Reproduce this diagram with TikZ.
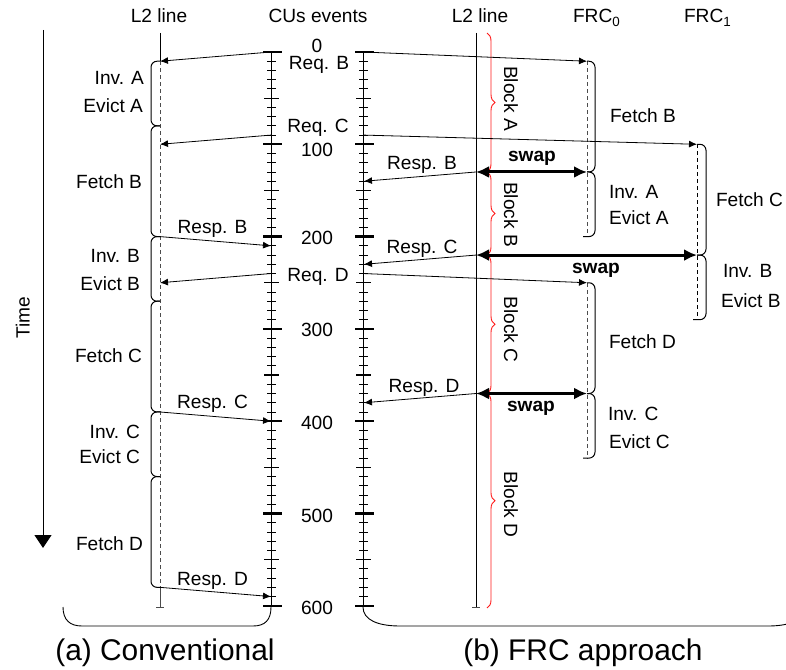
\documentclass[tikz,border=0pt]{standalone}
\usepackage{fontspec}
\setmainfont{Liberation Sans}
\usetikzlibrary{arrows.meta,decorations.pathreplacing}
\newcommand\Y[1]{52+0.923*#1}
\begin{document}
\begin{tikzpicture}[x=1bp,y=-1bp,
  every node/.style={font=\fontsize{19.2}{22}\selectfont, inner sep=0pt, outer sep=0pt},
  t/.style={anchor=base},
  te/.style={anchor=base east},
  tw/.style={anchor=base west},
  msg/.style={-{Latex[length=8bp,width=7bp]}, line width=0.8bp},
  swp/.style={{Latex[length=13bp,width=12bp]}-{Latex[length=13bp,width=12bp]}, line width=3bp},
  brk/.style={line width=1bp, rounded corners=6bp},
  dline/.style={line width=1bp, dash pattern=on 4bp off 3bp},
  minortick/.style={line width=0.9bp},
  midtick/.style={line width=1.2bp},
  majortick/.style={line width=2.3bp},
  redbrace/.style={draw=red!90!white, line width=0.9bp, decorate, decoration={brace, amplitude=8bp}},
  bigbrk/.style={line width=0.9bp},
  captxt/.style={font=\fontsize{30}{34}\selectfont, anchor=base},
  bold/.style={font=\fontsize{19.2}{22}\selectfont\bfseries}
]
\useasboundingbox (0,0) rectangle (786,670);
\clip (0,0) rectangle (786,670);

% ---------------- rulers ----------------
\draw[line width=1bp] (271,{\Y{0}}) -- (271,{\Y{600}});
\draw[line width=1bp] (363,{\Y{0}}) -- (363,{\Y{600}});
\foreach \tt in {0,10,...,600}{
  \draw[minortick] (267,{\Y{\tt}}) -- (276,{\Y{\tt}});
  \draw[minortick] (359,{\Y{\tt}}) -- (368,{\Y{\tt}});
}
\foreach \tt in {50,150,...,550}{
  \draw[midtick] (264,{\Y{\tt}}) -- (279,{\Y{\tt}});
  \draw[midtick] (356,{\Y{\tt}}) -- (371,{\Y{\tt}});
}
\foreach \tt in {0,100,...,600}{
  \draw[majortick] (263,{\Y{\tt}}) -- (282,{\Y{\tt}});
  \draw[majortick] (355,{\Y{\tt}}) -- (374,{\Y{\tt}});
}

% ---------------- headers ----------------
\node[t] (h1) at (159,22.7) {L2 line};
\node[t] (h2) at (318,22.7) {CUs events};
\node[t] (h3) at (480,22.7) {L2 line};
\node[tw] (h4) at (573,23) {FRC\textsubscript{0}};
\node[tw] (h5) at (684,23) {FRC\textsubscript{1}};

% ---------------- middle scale labels ----------------
\node[t] (n0) at (317,52.5) {0};
\node[t] (n100) at (317,157) {100};
\node[t] (n200) at (317,244) {200};
\node[t] (n300) at (317,336.5) {300};
\node[t] (n400) at (317,429) {400};
\node[t] (n500) at (317,522) {500};
\node[t] (n600) at (317,614) {600};
\node[t] (rqB) at (319,70) {Req. B};
\node[t] (rqC) at (318,133) {Req. C};
\node[t] (rqD) at (318,281.5) {Req. D};

% ---------------- time axis ----------------
\coordinate (tTop) at (43,30);
\coordinate (tBot) at (43,548);
\draw[line width=1bp, -{Triangle[length=13bp,width=17bp]}] (tTop) -- (tBot);
\node[anchor=base, rotate=90] (time) at (29.5,318) {Time};

% ---------------- (a) conventional ----------------
\coordinate (aTop) at (160,33);
\coordinate (a10) at (160,{\Y{10}});
\coordinate (a80) at (160,{\Y{80}});
\coordinate (a100) at (160,{\Y{100}});
\coordinate (a200) at (160,{\Y{200}});
\coordinate (a250) at (160,{\Y{250}});
\coordinate (a270) at (160,{\Y{270}});
\coordinate (a390) at (160,{\Y{390}});
\coordinate (a460) at (160,{\Y{460}});
\coordinate (a580) at (160,{\Y{580}});
\coordinate (aBot) at (160,607);
\coordinate (c0) at (271,{\Y{0}});
\coordinate (c90) at (271,{\Y{90}});
\coordinate (c210) at (271,{\Y{210}});
\coordinate (c240) at (271,{\Y{240}});
\coordinate (c400) at (271,{\Y{400}});
\coordinate (c590) at (271,{\Y{590}});

\draw[line width=1bp] (aTop) -- (a10);
\draw[dline, black!70] (a10) -- (a580);
\draw[line width=1bp, black!70] (a580) -- (aBot);
\draw[line width=1bp, black!70] (156,607) -- (164,607);

\draw[brk] (a10) -- (151,{\Y{10}}) -- (151,{\Y{80}}) -- (a80);
\draw[brk] (a80) -- (151,{\Y{80}}) -- (151,{\Y{200}}) -- (a200);
\draw[brk] (a200) -- (151,{\Y{200}}) -- (151,{\Y{270}}) -- (a270);
\draw[brk] (a270) -- (151,{\Y{270}}) -- (151,{\Y{390}}) -- (a390);
\draw[brk] (a390) -- (151,{\Y{390}}) -- (151,{\Y{460}}) -- (a460);
\draw[brk] (a460) -- (151,{\Y{460}}) -- (151,{\Y{580}}) -- (a580);

\draw[msg] (c0) -- (a10);
\draw[msg] (c90) -- (a100);
\draw[msg] (a200) -- (c210);
\draw[msg] (c240) -- (a250);
\draw[msg] (a390) -- (c400);
\draw[msg] (a580) -- (c590);

\node[te] (aInvA) at (144,85) {Inv. A};
\node[te] (aEvA) at (143,112.7) {Evict A};
\node[te] (aFB) at (142,188) {Fetch B};
\node[te] (aInvB) at (140,262) {Inv. B};
\node[te] (aEvB) at (140,290) {Evict B};
\node[te] (aFC) at (142,362.5) {Fetch C};
\node[te] (aInvC) at (140,438.5) {Inv. C};
\node[te] (aEvC) at (140,463) {Evict C};
\node[te] (aFD) at (143,550.5) {Fetch D};
\node[t] (aRB) at (212.5,233) {Resp. B};
\node[t] (aRC) at (212.5,408) {Resp. C};
\node[t] (aRD) at (212.5,585) {Resp. D};

\draw[bigbrk] (63,607) .. controls (63,620) and (70,626) .. (82,626) -- (253,626) .. controls (265,626) and (271,620) .. (271,607);
\node[captxt] (capA) at (165,660) {(a) Conventional};

% ---------------- (b) FRC approach ----------------
\coordinate (bTop) at (476,33);
\coordinate (bBot) at (476,607);
\coordinate (b130) at (476,{\Y{130}});
\coordinate (b220) at (476,{\Y{220}});
\coordinate (b370) at (476,{\Y{370}});
\coordinate (r0) at (363,{\Y{0}});
\coordinate (r90) at (363,{\Y{90}});
\coordinate (r140) at (364,{\Y{140}});
\coordinate (r230) at (364,{\Y{230}});
\coordinate (r240) at (363,{\Y{240}});
\coordinate (r380) at (364,{\Y{380}});
\coordinate (f10) at (587,{\Y{10}});
\coordinate (f130) at (587,{\Y{130}});
\coordinate (f200) at (587,{\Y{200}});
\coordinate (f250) at (587,{\Y{250}});
\coordinate (f370) at (587,{\Y{370}});
\coordinate (f440) at (587,{\Y{440}});
\coordinate (g100) at (697,{\Y{100}});
\coordinate (g220) at (697,{\Y{220}});
\coordinate (g290) at (697,{\Y{290}});

\draw[line width=1bp] (bTop) -- (bBot);
\draw[line width=1bp, black!70] (472,607) -- (480,607);

\draw[redbrace] (487,33) -- (487,{\Y{130}});
\draw[redbrace] (487,{\Y{130}}) -- (487,{\Y{220}});
\draw[redbrace] (487,{\Y{220}}) -- (487,{\Y{370}});
\draw[redbrace] (487,{\Y{370}}) -- (487,608);
\node[anchor=base, rotate=-90] (blA) at (504,98.5) {Block A};
\node[anchor=base, rotate=-90] (blB) at (504,214.5) {Block B};
\node[anchor=base, rotate=-90] (blC) at (504,329.5) {Block C};
\node[anchor=base, rotate=-90] (blD) at (504,504.5) {Block D};

\draw[dline, black!70] (f10) -- (f200);
\draw[dline, black!70] (f250) -- (f440);
\draw[dline] (g100) -- (g290);

\draw[brk] (f10) -- (595,{\Y{10}}) -- (595,{\Y{130}}) -- (f130);
\draw[brk] (f130) -- (595,{\Y{130}}) -- (595,{\Y{200}}) -- (583,{\Y{200}});
\draw[brk] (f250) -- (595,{\Y{250}}) -- (595,{\Y{370}}) -- (f370);
\draw[brk] (f370) -- (595,{\Y{370}}) -- (595,{\Y{440}}) -- (583,{\Y{440}});
\draw[brk] (g100) -- (706,{\Y{100}}) -- (706,{\Y{220}}) -- (g220);
\draw[brk] (g220) -- (706,{\Y{220}}) -- (706,{\Y{290}}) -- (693,{\Y{290}});

\draw[msg] (r0) -- (f10);
\draw[msg] (r90) -- (g100);
\draw[msg] (r240) -- (f250);
\draw[msg] (b130) -- (r140);
\draw[msg] (b220) -- (r230);
\draw[msg] (b370) -- (r380);
\draw[swp] (b130) -- (f130);
\draw[swp] (b220) -- (g220);
\draw[swp] (b370) -- (f370);

\node[t, bold] (sw1) at (532,161) {swap};
\node[t, bold] (sw2) at (596,273) {swap};
\node[t, bold] (sw3) at (531,411) {swap};
\node[t] (bRB) at (422,169) {Resp. B};
\node[t] (bRC) at (422,253) {Resp. C};
\node[t] (bRD) at (424,392) {Resp. D};

\node[tw] (bFB) at (610,123) {Fetch B};
\node[tw] (bInvA) at (609,198) {Inv. A};
\node[tw] (bEvA) at (609,224.5) {Evict A};
\node[tw] (bFC) at (716,206.5) {Fetch C};
\node[tw] (bInvB) at (723,277) {Inv. B};
\node[tw] (bEvB) at (721,307) {Evict B};
\node[tw] (bFD) at (609,348) {Fetch D};
\node[tw] (bInvC) at (608,420) {Inv. C};
\node[tw] (bEvC) at (609,448) {Evict C};

\draw[bigbrk] (363,607) .. controls (363,620) and (378,626) .. (400,626) -- (768,626) .. controls (790,626) and (805,620) .. (805,607);
\node[captxt] (capB) at (583,660) {(b) FRC approach};
\end{tikzpicture}
\end{document}
